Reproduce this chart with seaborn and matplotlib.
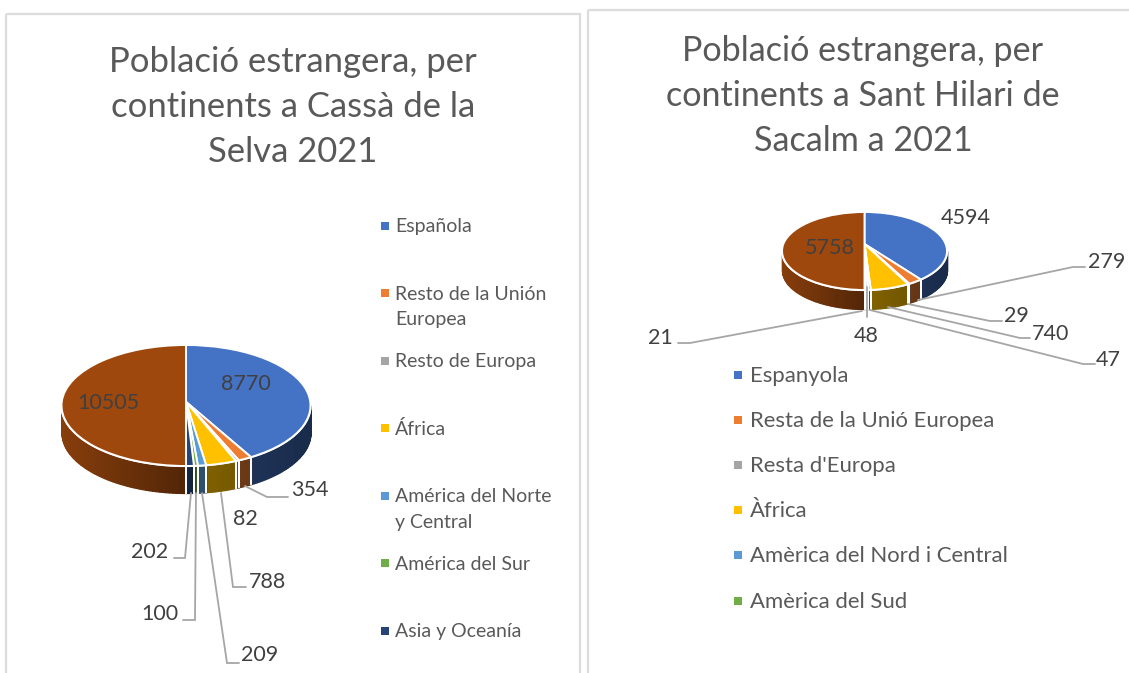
import numpy as np
import seaborn as sns
from matplotlib import pyplot as plt
from matplotlib.patches import Rectangle
from matplotlib.transforms import Transform

sns.set_theme(style='white')
plt.rcParams['font.family'] = ['Lato', 'DejaVu Sans']

W, H = 1129, 673

# dades
cassa_values = [8770, 354, 82, 788, 209, 100, 202, 10505]
hilari_values = [4594, 279, 29, 740, 47, 48, 21, 5758]
cassa_legend = ['Española', 'Resto de la Unión\nEuropea', 'Resto de Europa', 'África',
                'América del Norte\ny Central', 'América del Sur', 'Asia y Oceanía']
hilari_legend = ['Espanyola', 'Resta de la Unió Europea', "Resta d'Europa", 'Àfrica',
                 'Amèrica del Nord i Central', 'Amèrica del Sud']
cassa_title = 'Població estrangera, per\ncontinents a Cassà de la\nSelva 2021'
hilari_title = 'Població estrangera, per\ncontinents a Sant Hilari de\nSacalm a 2021'

palette = sns.color_palette(['#4472c4', '#ed7d31', '#a5a5a5', '#ffc000',
                             '#5b9bd5', '#70ad47', '#264478', '#9e480e'])
TITLE = '#595959'
LABEL = '#404040'
LEADER = '#a6a6a6'


def warp(x, y, k):
    # keeps the unit circle but moves its centre up by k, like the tilted pie
    den = 1 + k * y
    return x * np.sqrt(1 - k * k) / den, (y + k) / den


class Tilt(Transform):
    input_dims = 2
    output_dims = 2

    def __init__(self, k):
        super().__init__()
        self.k = k

    def transform_non_affine(self, values):
        x, y = warp(values[:, 0], values[:, 1], self.k)
        return np.column_stack([x, y])


def pie3d(values, cx, cy, rx, ry, depth, k):
    # axes is placed so that a unit pie becomes the flattened ellipse
    d = depth / ry
    m = 0.03
    left = (cx - rx * (1 + m)) / W
    bottom = 1 - (cy + ry * (1 + m) + depth) / H
    ax = fig.add_axes([left, bottom, 2 * rx * (1 + m) / W, (2 * ry * (1 + m) + depth) / H])
    wedges, _ = ax.pie(values, colors=palette, startangle=90, counterclock=False,
                       wedgeprops=dict(edgecolor='white', linewidth=1.4, zorder=3))
    ax.set_aspect('auto')
    ax.set_xlim(-1 - m, 1 + m)
    ax.set_ylim(-1 - m - d, 1 + m)
    ax.patch.set_alpha(0)
    for w in wedges:
        w.set_transform(Tilt(k) + ax.transData)

    # side wall, only the part of each slice that faces the viewer
    tip = np.degrees(np.arcsin(k))
    for w, c in zip(wedges, palette):
        t1, t2 = w.theta1 % 360, w.theta2 % 360
        if t2 <= t1:
            t2 += 360
        for a, b in [(180 + tip, 360 - tip), (540 + tip, 720 - tip)]:
            lo, hi = max(t1, a), min(t2, b)
            if hi <= lo:
                continue
            steps = np.linspace(lo, hi, int((hi - lo) / 1.5) + 2)
            for s0, s1 in zip(steps[:-1], steps[1:]):
                tt = np.radians([s0, s1])
                x, y = warp(np.cos(tt), np.sin(tt), k)
                shade = np.interp(x.mean(), [-1, 0, 1], [0.86, 0.52, 0.38])
                ax.fill_between(x, y, y - d, color=np.array(c) * shade, lw=0.9, zorder=1)
            for edge in (lo, hi):
                if edge in (a, b):
                    continue
                e = np.radians(edge)
                ex, ey = warp(np.cos(e), np.sin(e), k)
                ax.plot([ex, ex], [ey, ey - d], color='white', lw=1.4, zorder=2)
    # white rim under the front of the top face
    tt = np.radians(np.linspace(180, 360, 181))
    ax.plot(np.cos(tt), np.sin(tt), color='white', lw=1.6, zorder=2)
    return ax


def legend_items(labels, x_mark, x_text, y0, pitch, size):
    for i, lab in enumerate(labels):
        y = y0 + i * pitch
        over.scatter([x_mark], [y], marker='s', s=30, color=palette[i], linewidths=0)
        over.text(x_text, y + 1, lab.split('\n')[0], color=TITLE, fontsize=size, va='center')
        if '\n' in lab:
            over.text(x_text, y + 27, lab.split('\n')[1], color=TITLE, fontsize=size, va='center')


def leader(pts):
    over.plot([p[0] for p in pts], [p[1] for p in pts], color=LEADER, lw=1.3, solid_joinstyle='miter')


fig = plt.figure(figsize=(W / 100, H / 100), dpi=100, facecolor='white')

over = fig.add_axes([0, 0, 1, 1], zorder=5)
over.set_xlim(0, W)
over.set_ylim(H, 0)
over.axis('off')
over.patch.set_alpha(0)

# targetes de fons
over.add_patch(Rectangle((6, 14), 574, 670, fill=False, ec='#dcdcdc', lw=1.6))
over.add_patch(Rectangle((588, 10), 560, 670, fill=False, ec='#dcdcdc', lw=1.6))

pie3d(cassa_values, 186, 405.5, 124.5, 60.5, 27, 0.06)
pie3d(hilari_values, 864.5, 251, 82.5, 39, 19, 0.18)

# titols
for line, y in zip(cassa_title.split('\n'), [62, 107, 152]):
    over.text(293, y, line, color=TITLE, fontsize=24.9, ha='center', va='center')
for line, y in zip(hilari_title.split('\n'), [51, 96, 141]):
    over.text(863, y, line, color=TITLE, fontsize=24.6, ha='center', va='center')

legend_items(cassa_legend, 385, 395, 225.5, 67.5, 14)
legend_items(hilari_legend, 738, 750, 374.5, 45.2, 15.9)

# etiquetes Cassa
for v, x, y in zip(cassa_values, [246, 310, 245, 268, 260, 160, 150, 108],
                   [384, 490, 519, 582, 655, 614, 552, 403]):
    over.text(x, y, str(v), color=LABEL, fontsize=15.5, ha='center', va='center')
leader([(245, 486), (267, 497), (288, 497)])
leader([(221, 493), (233, 587), (246, 587)])
leader([(202, 493), (227, 663), (239, 663)])
leader([(196, 493), (195, 620), (183, 620)])
leader([(191, 493), (185, 558), (174, 558)])

# etiquetes Sant Hilari
for v, x, y in zip(hilari_values, [966, 1107, 1016, 1051, 1108, 866, 660, 830],
                   [218, 262, 316, 334, 360, 336, 338, 248]):
    over.text(x, y, str(v), color=LABEL, fontsize=15.5, ha='center', va='center')
leader([(918, 300), (1073, 267), (1085, 267)])
leader([(908, 304), (990, 321), (1002, 321)])
leader([(888, 307), (1020, 338), (1030, 338)])
leader([(870, 310), (1083, 364), (1095, 364)])
leader([(867, 287), (867, 317)])
leader([(862, 311), (690, 343), (678, 343)])

fig.savefig('out.png', dpi=100)
